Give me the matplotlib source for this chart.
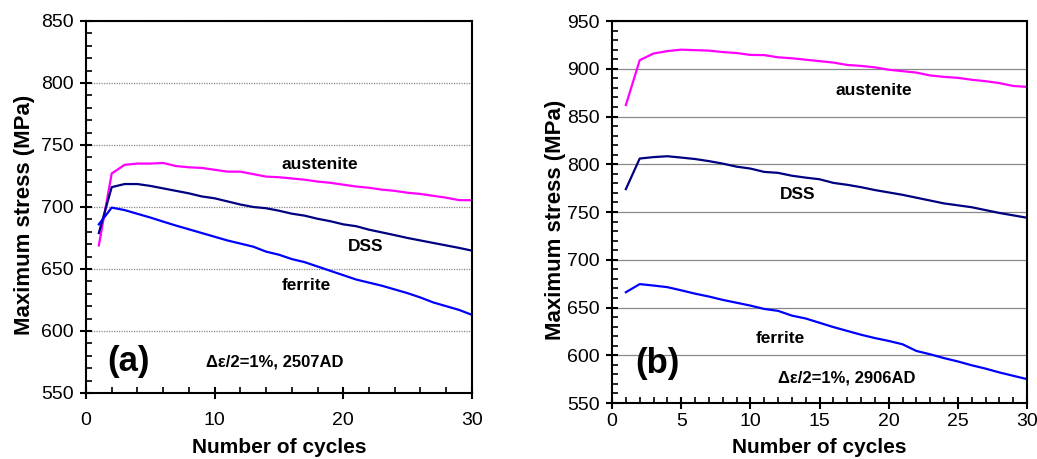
import matplotlib
matplotlib.use("Agg")
import matplotlib.pyplot as plt
from matplotlib.ticker import MultipleLocator

plt.rcParams['font.family'] = ['Liberation Sans', 'DejaVu Sans']

cycles = list(range(1, 31))

# Panel (a) 2507AD
a_austenite = [669, 727, 734, 735, 735, 735.5, 733, 732, 731.5, 730, 728.5, 728.5, 726.5, 724.5, 724,
               723, 722, 720.5, 719.5, 718, 716.5, 715.5, 714, 713, 711.5, 710.5, 709, 707.5, 705.5, 705.5]
a_dss = [679, 716, 718.5, 718.5, 717, 715, 713, 711, 708.5, 707, 704.5, 702, 700, 699, 697,
         694.6, 693, 690.5, 688.5, 686, 684.5, 681.7, 679.5, 677.3, 675, 673, 671, 669, 667, 664.8]
a_ferrite = [686, 699.5, 697.5, 694.5, 691.5, 688.2, 685, 682, 679, 676, 673, 670.5, 668, 664, 661.5,
             658, 655.5, 652, 648.5, 645, 641.5, 639, 636.5, 633.5, 630.5, 627, 623, 620, 617, 613]

# Panel (b) 2906AD
b_austenite = [862, 909, 916, 918.5, 920, 919.5, 919, 917.5, 916.5, 914.5, 914.3, 912, 911, 909.5, 908,
               906.5, 904, 903, 901.5, 899, 897.5, 896, 893, 891.5, 890.5, 888.5, 887, 885, 882, 881]
b_dss = [774, 806, 807.5, 808.4, 807, 805.5, 803.3, 800.7, 797.5, 795.5, 792, 791, 788, 786, 784.3,
         780.5, 778.5, 776, 773, 770.5, 768, 765, 762, 759, 757, 755, 752, 749, 746.5, 744]
b_ferrite = [666, 674.5, 673, 671.3, 668, 664.5, 661.5, 658, 655, 652, 648.5, 646.5, 641.5, 638.5, 634,
             629.5, 625.5, 621.5, 618, 615, 611.5, 604.5, 601, 597, 593.5, 589.5, 586, 582, 578.5, 575]

C_AUS = '#FF00FF'
C_DSS = '#000080'
C_FER = '#0000FF'

fig = plt.figure(figsize=(10.37, 4.59), dpi=100)
axA = fig.add_axes([0.0829, 0.1438, 0.3722, 0.8105])
axB = fig.add_axes([0.5902, 0.1220, 0.4002, 0.8322])

def style(ax, ylim, xmaj, xmin, grid_ls, xpad, xlab_y, ylab_x):
    ax.set_xlim(0, 30)
    ax.set_ylim(*ylim)
    ax.xaxis.set_major_locator(MultipleLocator(xmaj))
    ax.xaxis.set_minor_locator(MultipleLocator(xmin))
    ax.yaxis.set_major_locator(MultipleLocator(50))
    ax.yaxis.set_minor_locator(MultipleLocator(10))
    ax.tick_params(which='major', direction='inout', length=8, width=1.5, labelsize=14)
    ax.tick_params(axis='y', which='major', pad=5)
    ax.tick_params(axis='x', which='major', pad=xpad)
    ax.tick_params(which='minor', direction='in', length=4, width=1.2)
    for s in ax.spines.values():
        s.set_linewidth(1.5)
    ax.grid(axis='y', which='major', color='#888888', linewidth=0.9, linestyle=grid_ls)
    ax.set_axisbelow(True)
    ax.set_xlabel('Number of cycles', fontsize=15, fontweight='bold', va='center')
    ax.xaxis.set_label_coords(0.5, xlab_y)
    ax.set_ylabel('Maximum stress (MPa)', fontsize=16, fontweight='bold', va='center')
    ax.yaxis.set_label_coords(ylab_x, 0.48)

style(axA, (550, 850), 10, 2, (0, (1, 1)), 10, -0.146, -0.158)
style(axB, (550, 950), 5, 1, '-', 3.5, -0.117, -0.137)

lw = 1.6
axA.plot(cycles, a_austenite, color=C_AUS, lw=lw)
axA.plot(cycles, a_dss, color=C_DSS, lw=lw)
axA.plot(cycles, a_ferrite, color=C_FER, lw=lw)
axB.plot(cycles, b_austenite, color=C_AUS, lw=lw)
axB.plot(cycles, b_dss, color=C_DSS, lw=lw)
axB.plot(cycles, b_ferrite, color=C_FER, lw=lw)

tk = dict(fontsize=12.5, fontweight='bold', ha='center', va='center')
dk = dict(fontsize=12, fontweight='bold', ha='center', va='center')
pk = dict(fontsize=25, fontweight='bold', ha='center', va='center')
axA.text(18.2, 734, 'austenite', **tk)
axA.text(21.7, 668, 'DSS', **tk)
axA.text(17.1, 636.5, 'ferrite', **tk)
axA.text(3.27, 575, '(a)', **pk)
axA.text(14.7, 575, 'Δε/2=1%, 2507AD', **dk)

axB.text(18.95, 877.7, 'austenite', **tk)
axB.text(13.4, 768, 'DSS', **tk)
axB.text(12.15, 617.7, 'ferrite', **tk)
axB.text(3.3, 591.6, '(b)', **pk)
axB.text(17.0, 576, 'Δε/2=1%, 2906AD', **dk)

fig.savefig('out.png', dpi=100)
